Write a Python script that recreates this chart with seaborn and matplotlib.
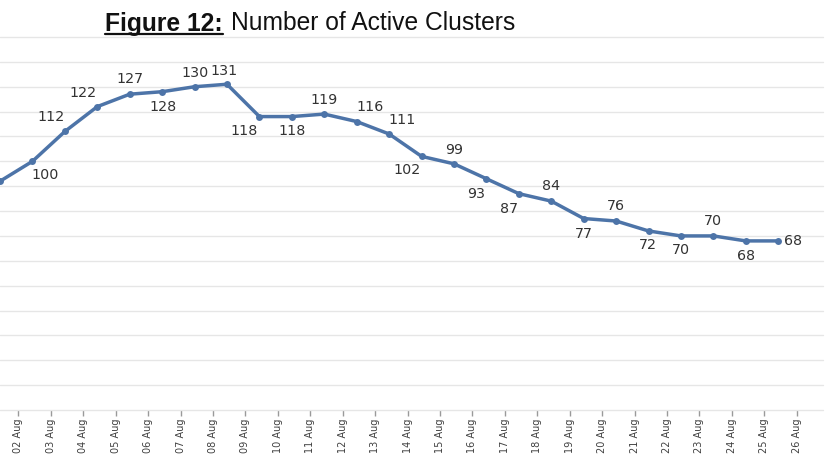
import matplotlib
matplotlib.use("Agg")
import matplotlib.pyplot as plt
from matplotlib.lines import Line2D
import seaborn as sns
import pandas as pd

# ---- data ----
dates = ["02 Aug", "03 Aug", "04 Aug", "05 Aug", "06 Aug", "07 Aug", "08 Aug",
         "09 Aug", "10 Aug", "11 Aug", "12 Aug", "13 Aug", "14 Aug", "15 Aug",
         "16 Aug", "17 Aug", "18 Aug", "19 Aug", "20 Aug", "21 Aug", "22 Aug",
         "23 Aug", "24 Aug", "25 Aug", "26 Aug"]
active_clusters = [92, 100, 112, 122, 127, 128, 130, 131, 118, 118, 119, 116, 111,
                   102, 99, 93, 87, 84, 77, 76, 72, 70, 70, 68, 68]

# label offsets in pixels (dx, dy); None = label outside the visible area
label_offsets = [None, (13, -14), (-14, 14), (-14, 14), (0, 15), (1, -15), (0, 14),
                 (-3, 13), (-15, -14), (0, -14), (0, 14), (13, 15), (13, 14),
                 (-14, -14), (0, 14), (-10, -15), (-10, -15), (0, 15), (0, -15),
                 (0, 15), (-1, -14), (0, -14), (0, 15), (0, -15), (15, 0)]

df = pd.DataFrame({"pos": list(range(len(active_clusters))), "value": active_clusters})

sns.set_theme(style="white")
plt.rcParams["font.family"] = ["DejaVu Sans"]

W, H = 830, 468
fig = plt.figure(figsize=(W / 100, H / 100), dpi=100)
ax = fig.add_axes([0, (H - 410) / H, 823 / W, (410 - 37) / H])

line_color = "#4d74a8"
sns.lineplot(data=df, x="pos", y="value", ax=ax, color=line_color, linewidth=2.5,
             marker="o", markersize=5, markeredgewidth=0)

ax.set_xlim(0, 25.38)
ax.set_ylim(0, 150)
ax.set_yticks(range(0, 151, 10))
ax.yaxis.grid(True, color="#e6e6e6", linewidth=1)
for gl in ax.get_ygridlines():
    gl.set_clip_on(False)
ax.xaxis.grid(False)
ax.set_axisbelow(True)
for s in ax.spines.values():
    s.set_visible(False)
ax.tick_params(axis="y", left=False, labelleft=False)
ax.set_xticks([j + 0.57 for j in range(len(dates))])
ax.set_xticklabels(dates, rotation=90, fontsize=7, color="#404040")
ax.tick_params(axis="x", bottom=True, length=4, width=1, color="#9a9a9a", pad=2)
ax.set_xlabel("")
ax.set_ylabel("")

for i, v in enumerate(active_clusters):
    off = label_offsets[i]
    if off is None:
        continue
    ax.annotate(str(v), (i, v), xytext=off, textcoords="offset pixels",
                ha="center", va="center", fontsize=10.3, color="#333333")

# ---- title ----
base_y = 1 - 30.5 / H
t1 = fig.text(105 / W, base_y, "Figure 12:", fontsize=17.7, fontweight="bold",
              family="Liberation Sans", color="#111111", va="baseline", ha="left")
fig.canvas.draw()
bb = t1.get_window_extent()
fig.add_artist(Line2D([bb.x0 / W, bb.x1 / W], [(H - 33.5) / H, (H - 33.5) / H],
                      transform=fig.transFigure, color="#111111", linewidth=1.6))
fig.text((bb.x1 + 8) / W, base_y, "Number of Active Clusters", fontsize=17.7,
         family="Liberation Sans", color="#111111", va="baseline", ha="left")

fig.savefig("out.png", dpi=100)
